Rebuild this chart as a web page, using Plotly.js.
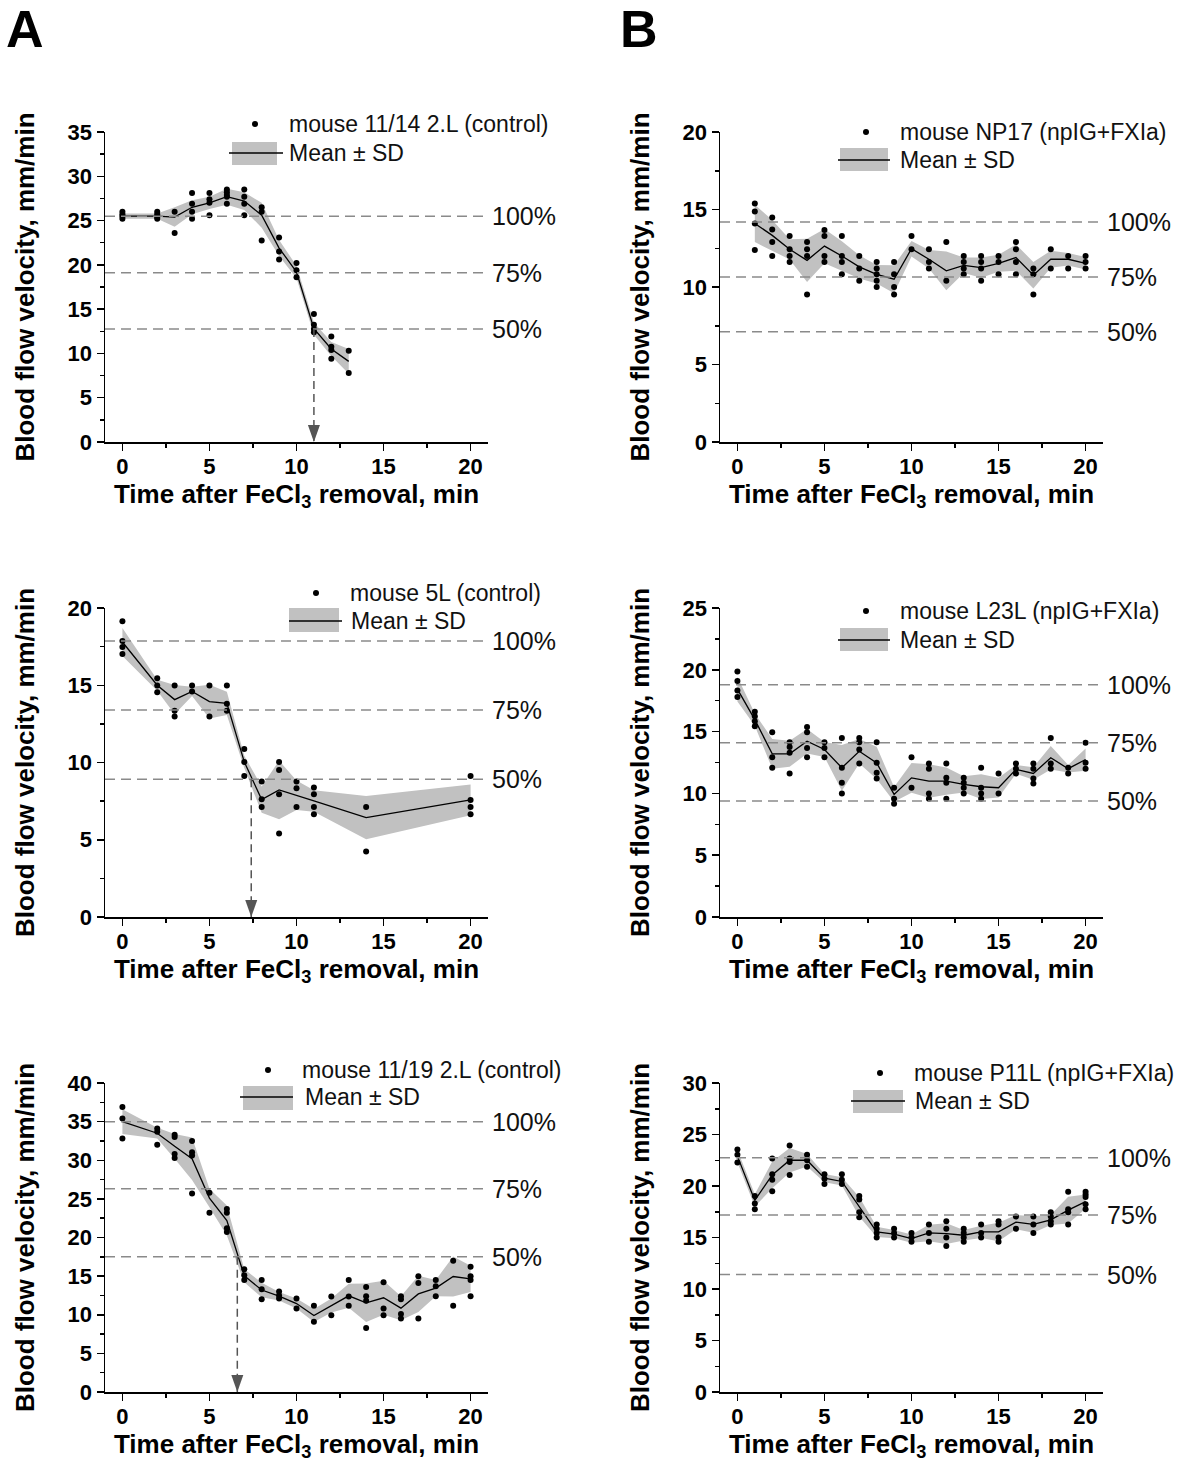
<!DOCTYPE html>
<html>
<head>
<meta charset="utf-8">
<script src="https://cdn.plot.ly/plotly-3.0.1.min.js"></script>
<style>html,body{margin:0;padding:0;background:#fff;}#chart{width:1181px;height:1466px;}</style>
</head>
<body>
<div id="chart"></div>
<script>
// ---------------- DATA ----------------
const levelLabels = ["100%", "75%", "50%"];

// Panel A, top: mouse 11/14 2.L (control)
const a1Name = "mouse 11/14 2.L (control)";
const a1T    = [0, 2, 3, 4, 5, 6, 7, 8, 9, 10, 11, 12, 13];
const a1Mean = [25.5, 25.5, 25.4, 26.5, 27.0, 27.7, 27.2, 25.6, 21.9, 19.2, 12.8, 10.5, 9.1];
const a1Sd   = [0.3, 0.3, 1.1, 0.8, 0.7, 0.9, 1.0, 1.4, 0.9, 0.7, 0.7, 0.8, 1.4];
const a1Pts  = [[26.0,25.7,25.5,25.2],[26.0,25.7,25.4,25.2],[26.0,23.6],[28.1,26.9,26.0,25.2],
                [28.1,27.4,27.0,25.6],[28.5,28.2,27.9,27.7,26.9],[28.5,27.7,26.9,25.6],[26.5,26.0,22.75],
                [23.1,21.5,20.6],[20.2,19.4,18.6],[14.45,13.25,12.75,12.4],[11.9,10.75,10.4,9.4],[10.3,7.8]];
const a1Levels = [25.5, 19.1, 12.75];
const a1Arrow  = 11;

// Panel A, middle: mouse 5L (control)
const a2Name = "mouse 5L (control)";
const a2T    = [0, 2, 3, 4, 5, 6, 7, 8, 9, 10, 11, 14, 20];
const a2Mean = [17.8, 15.0, 14.07, 14.6, 13.94, 13.83, 10.04, 7.6, 8.22, 7.88, 7.51, 6.43, 7.58];
const a2Sd   = [0.9, 0.35, 0.95, 0.3, 1.1, 0.75, 0.4, 0.85, 1.9, 0.95, 0.7, 1.4, 1.0];
const a2Pts  = [[19.15,17.86,17.47,17.03],[15.45,14.98,14.55],[14.98,13.35,12.97],[14.98,14.6],
                [14.98,12.97],[14.98,13.8,13.35],[10.87,10.04,9.13],[8.77,7.62,7.12],
                [10.04,9.52,7.94,5.41],[8.77,8.33,7.12],[8.38,7.94,7.12,6.65],[7.12,4.24],[9.13,7.58,7.12,6.65]];
const a2Levels = [17.86, 13.4, 8.92];
const a2Arrow  = 7.4;

// Panel A, bottom: mouse 11/19 2.L (control)
const a3Name = "mouse 11/19 2.L (control)";
const a3T    = [0, 2, 3, 4, 5, 6, 7, 8, 9, 10, 11, 12, 13, 14, 15, 16, 17, 18, 19, 20];
const a3Mean = [35.0, 33.5, 31.8, 30.2, 25.1, 22.2, 15.05, 13.2, 12.4, 11.45, 9.9, 11.2, 12.45, 11.55, 12.2, 10.85, 12.7, 13.45, 14.95, 14.65];
const a3Sd   = [1.6, 0.7, 1.6, 2.75, 1.2, 1.95, 0.85, 0.95, 0.55, 0.65, 0.85, 0.9, 1.55, 2.5, 2.2, 1.55, 2.35, 1.05, 2.6, 1.7];
const a3Pts  = [[36.9,35.4,32.8],[34.1,33.7,32.0],[33.3,33.0,30.8,30.3],[32.5,31.05,30.6,25.7],
                [25.8,23.2],[23.7,23.2,21.2,20.7],[15.9,15.1,14.5],[14.5,13.3,12.0],[13.0,12.5,12.1],
                [12.1,10.8],[11.16,9.08],[12.37,9.95],[14.5,12.37,11.16],[13.6,12.4,11.8,8.3],
                [14.2,10.8,9.95],[12.4,12.0,10.1,9.5],[15.0,14.1,9.5],[14.5,13.7,12.4],[17.0,11.16],[16.2,15.0,14.5,12.4]];
const a3Levels = [35.0, 26.3, 17.5];
const a3Arrow  = 6.6;

// Panel B, top: mouse NP17 (npIG+FXIa)
const b1Name = "mouse NP17 (npIG+FXIa)";
const b1T    = [1, 2, 3, 4, 5, 6, 7, 8, 9, 10, 11, 12, 13, 14, 15, 16, 17, 18, 19, 20];
const b1Mean = [14.1, 13.33, 12.43, 11.72, 12.64, 12.0, 11.3, 10.82, 10.5, 12.47, 11.79, 11.04, 11.4, 11.25, 11.53, 11.9, 10.76, 11.79, 11.79, 11.53];
const b1Sd   = [1.2, 1.0, 0.65, 1.4, 1.1, 0.95, 0.75, 0.6, 0.9, 0.5, 0.6, 1.25, 0.5, 0.65, 0.55, 0.85, 0.85, 0.55, 0.4, 0.4];
const b1Pts  = [[15.39,14.87,14.1,12.39],[14.49,13.71,12.9,12.0],[13.29,12.43,12.0,11.61],[12.9,12.43,12.0,9.51],
                [13.67,13.29,12.0,11.61],[13.29,12.0,11.61,10.82],[12.0,11.2,10.41],[11.61,11.2,10.82,10.41,10.0],
                [11.61,10.82,10.0,9.51],[13.29,12.43],[12.43,11.61,11.2],[12.9,10.41],[12.0,11.61,11.2,10.82],
                [12.0,11.61,11.2,10.41],[12.0,11.61,10.82],[12.9,12.43,11.61,10.82],[11.2,10.82,9.51],
                [12.43,11.2],[12.0,11.2],[12.0,11.61,11.2]];
const b1Levels = [14.19, 10.65, 7.11];

// Panel B, middle: mouse L23L (npIG+FXIa)
const b2Name = "mouse L23L (npIG+FXIa)";
const b2T    = [0, 1, 2, 3, 4, 5, 6, 7, 8, 9, 10, 11, 12, 13, 14, 15, 16, 17, 18, 19, 20];
const b2Mean = [18.44, 15.97, 13.2, 13.2, 14.22, 13.55, 12.07, 13.41, 12.47, 9.92, 11.26, 11.0, 11.0, 10.73, 10.54, 10.46, 11.94, 11.61, 12.88, 12.0, 12.74];
const b2Sd   = [1.0, 0.5, 1.2, 1.05, 1.0, 0.6, 1.85, 1.0, 1.3, 0.6, 1.2, 1.35, 1.1, 0.65, 1.0, 0.8, 0.35, 0.5, 0.95, 0.3, 0.9];
const b2Pts  = [[19.87,19.1,18.33,17.8],[16.6,16.24,15.83,15.43],[14.95,12.93,12.07],[14.14,13.76,13.28,11.61],
                [15.38,14.95,13.68,12.93],[14.14,13.68,12.93],[14.49,12.07,10.86,10.0],[14.49,14.14,13.55,12.42],
                [14.14,12.47,11.67,11.2],[10.46,9.57,9.17],[12.93,10.46],[12.42,12.0,10.0,9.57],
                [12.42,11.26,10.86,9.57],[11.26,10.86,10.46,10.0],[12.07,10.46,10.0,9.57],[11.61,10.0],
                [12.42,12.0,11.61],[12.42,12.0,11.2,10.8],[14.49,12.42,12.0],[12.07,11.61],[14.09,12.47,12.0]];
const b2Levels = [18.79, 14.09, 9.38];

// Panel B, bottom: mouse P11L (npIG+FXIa)
const b3Name = "mouse P11L (npIG+FXIa)";
const b3T    = [0, 1, 2, 3, 4, 5, 6, 7, 8, 9, 10, 11, 12, 13, 14, 15, 16, 17, 18, 19, 20];
const b3Mean = [22.9, 18.6, 21.08, 22.5, 22.5, 20.76, 20.44, 17.97, 15.54, 15.32, 14.9, 15.44, 15.38, 15.22, 15.54, 15.54, 16.49, 16.27, 16.71, 17.66, 18.48];
const b3Sd   = [0.6, 0.6, 1.3, 1.2, 0.6, 0.4, 0.4, 0.95, 0.5, 0.4, 0.4, 0.8, 1.0, 0.5, 0.6, 0.9, 0.7, 0.8, 0.5, 1.3, 0.7];
const b3Pts  = [[23.54,23.04,22.28],[19.02,18.29,17.75],[22.66,21.14,20.6,19.5],[23.92,22.66,22.34,21.08],
                [23.04,22.5,21.87],[21.14,20.7,20.19],[21.14,20.6,20.19],[19.02,18.7,17.44,16.96],
                [16.27,15.85,15.44,15.0],[15.85,15.44,15.0],[15.44,15.0,14.59],[16.27,15.44,14.59],
                [16.58,15.85,15.0,14.18],[15.85,15.44,15.0,14.59],[16.27,15.44,15.0],[16.58,16.27,15.0,14.59],
                [17.03,15.85],[17.03,16.27,15.44],[17.44,17.03,16.58,16.27],[19.43,17.75,17.44,16.27],
                [19.43,19.18,18.92,18.23,17.75]];
const b3Levels = [22.75, 17.18, 11.4];

const yMax = [35, 20, 40, 20, 25, 30];
const meanLabel = "Mean \u00b1 SD";
const xTitle = "Time after FeCl<sub>3</sub> removal, min";
const yTitle = "Blood flow velocity, mm/min";

// ---------------- LAYOUT GEOMETRY ----------------
const W = 1181, H = 1466;
const FONT = "Liberation Sans, Arial, Helvetica, sans-serif";
const px = v => v / W;
const py = v => 1 - v / H;
const colPx = [[105, 488], [720, 1103]];
const rowPx = [[132, 442], [608, 917], [1083, 1392]];

const panels = [
  {col:0,row:0,name:a1Name,T:a1T,mean:a1Mean,sd:a1Sd,pts:a1Pts,levels:a1Levels,arrow:a1Arrow,
   leg:{dot:[255,124],rect:[232,142,277,165],line:[229,283,153]}},
  {col:0,row:1,name:a2Name,T:a2T,mean:a2Mean,sd:a2Sd,pts:a2Pts,levels:a2Levels,arrow:a2Arrow,
   leg:{dot:[316,593],rect:[289,608,339,632],line:[289,342,621]}},
  {col:0,row:2,name:a3Name,T:a3T,mean:a3Mean,sd:a3Sd,pts:a3Pts,levels:a3Levels,arrow:a3Arrow,
   leg:{dot:[268,1070],rect:[243,1086,293,1110],line:[240,293,1097]}},
  {col:1,row:0,name:b1Name,T:b1T,mean:b1Mean,sd:b1Sd,pts:b1Pts,levels:b1Levels,arrow:null,
   leg:{dot:[866,132],rect:[840,148,888,171],line:[838,890,160]}},
  {col:1,row:1,name:b2Name,T:b2T,mean:b2Mean,sd:b2Sd,pts:b2Pts,levels:b2Levels,arrow:null,
   leg:{dot:[866,611],rect:[840,628,888,651],line:[838,890,640]}},
  {col:1,row:2,name:b3Name,T:b3T,mean:b3Mean,sd:b3Sd,pts:b3Pts,levels:b3Levels,arrow:null,
   leg:{dot:[880,1073],rect:[853,1090,903,1113],line:[851,905,1101]}}
];

const traces = [];
const shapes = [];
const annotations = [];
const layout = {
  width: W, height: H,
  margin: {l:0, r:0, t:0, b:0},
  paper_bgcolor: "#fff", plot_bgcolor: "rgba(0,0,0,0)",
  showlegend: false,
  font: {family: FONT, color: "#000"}
};

const axisBase = {
  showline: true, linecolor: "#000", linewidth: 1.5,
  ticks: "outside", ticklen: 7, tickwidth: 1.5, tickcolor: "#000",
  showgrid: false, zeroline: false, tick0: 0, dtick: 5,
  tickfont: {family: FONT, size: 22, color: "#000", weight: "bold"},
  minor: {ticks: "outside", ticklen: 4, tickwidth: 1.5, tickcolor: "#000", dtick: 2.5, showgrid: false},
  automargin: false,
  fixedrange: true
};

panels.forEach((p, i) => {
  const s = i === 0 ? "" : String(i + 1);
  const xa = "x" + s, ya = "y" + s;
  const cp = colPx[p.col], rp = rowPx[p.row];
  layout["xaxis" + s] = Object.assign({}, axisBase, {
    domain: [px(cp[0]), px(cp[1])], anchor: ya, range: [-1, 21], ticklabelstandoff: -3,
    title: {text: xTitle, standoff: 3, font: {family: FONT, size: 26, color: "#000", weight: "bold"}}
  });
  layout["yaxis" + s] = Object.assign({}, axisBase, {
    domain: [py(rp[1]), py(rp[0])], anchor: xa, range: [0, yMax[i]],
    title: {text: yTitle, standoff: 25, font: {family: FONT, size: 26, color: "#000", weight: "bold"}}
  });

  const lower = p.mean.map((m, k) => m - p.sd[k]);
  const upper = p.mean.map((m, k) => m + p.sd[k]);
  traces.push({x: p.T, y: lower, xaxis: xa, yaxis: ya, mode: "lines",
               line: {width: 0, color: "rgba(0,0,0,0)"}, hoverinfo: "skip", showlegend: false});
  traces.push({x: p.T, y: upper, xaxis: xa, yaxis: ya, mode: "lines", fill: "tonexty",
               fillcolor: "#c1c1c1", line: {width: 0, color: "rgba(0,0,0,0)"}, hoverinfo: "skip", showlegend: false});
  traces.push({x: p.T, y: p.mean, xaxis: xa, yaxis: ya, mode: "lines", name: meanLabel,
               line: {color: "#000", width: 1.3}, showlegend: false});
  const ptX = [], ptY = [];
  p.pts.forEach((grp, k) => grp.forEach(v => { ptX.push(p.T[k]); ptY.push(v); }));
  traces.push({x: ptX, y: ptY, xaxis: xa, yaxis: ya, mode: "markers", name: p.name,
               marker: {color: "#000", size: 6}, cliponaxis: false, showlegend: false});

  // reference levels (100%, 75%, 50%)
  p.levels.forEach((lv, k) => {
    shapes.push({type: "line", xref: xa + " domain", yref: ya, x0: 0, x1: 1, y0: lv, y1: lv,
                 line: {color: "#8a8a8a", width: 1.5, dash: "10px,6px"}, layer: "above"});
    annotations.push({xref: xa + " domain", yref: ya, x: 1, y: lv, xanchor: "left", yanchor: "middle",
                      xshift: 2, text: levelLabels[k], showarrow: false,
                      font: {family: FONT, size: 25, color: "#111"}});
  });

  // time-to-50% arrow: dashed stem + triangular head (pixel-sized, anchored at the data point)
  if (p.arrow !== null) {
    shapes.push({type: "line", xref: xa, yref: ya, x0: p.arrow, x1: p.arrow, y0: p.levels[2], y1: 0,
                 line: {color: "#555", width: 1.5, dash: "8px,5px"}, layer: "above"});
    shapes.push({type: "path", xref: xa, yref: ya, xsizemode: "pixel", ysizemode: "pixel",
                 xanchor: p.arrow, yanchor: 0, path: "M-6,17 L6,17 L0,0 Z",
                 fillcolor: "#555", line: {width: 0}, layer: "above"});
  }

  // legend (drawn manually to match the reference icons)
  const L = p.leg;
  shapes.push({type: "circle", xref: "paper", yref: "paper",
               x0: px(L.dot[0] - 3), x1: px(L.dot[0] + 3), y0: py(L.dot[1] + 3), y1: py(L.dot[1] - 3),
               fillcolor: "#000", line: {width: 0}});
  shapes.push({type: "rect", xref: "paper", yref: "paper",
               x0: px(L.rect[0]), x1: px(L.rect[2]), y0: py(L.rect[3]), y1: py(L.rect[1]),
               fillcolor: "#c1c1c1", line: {width: 0}});
  shapes.push({type: "line", xref: "paper", yref: "paper",
               x0: px(L.line[0]), x1: px(L.line[1]), y0: py(L.line[2]), y1: py(L.line[2]),
               line: {color: "#000", width: 1.3}});
  annotations.push({xref: "paper", yref: "paper", x: px(L.dot[0] + 32), y: py(L.dot[1]),
                    xanchor: "left", yanchor: "middle", text: p.name, showarrow: false,
                    font: {family: FONT, size: 23, color: "#111"}});
  annotations.push({xref: "paper", yref: "paper", x: px(L.rect[2] + 10), y: py(L.line[2]),
                    xanchor: "left", yanchor: "middle", text: meanLabel, showarrow: false,
                    font: {family: FONT, size: 23, color: "#111"}});
});

annotations.push({xref: "paper", yref: "paper", x: px(4), y: py(29), xanchor: "left", yanchor: "middle",
                  text: "A", showarrow: false, font: {family: FONT, size: 52, color: "#000", weight: "bold"}});
annotations.push({xref: "paper", yref: "paper", x: px(618), y: py(29), xanchor: "left", yanchor: "middle",
                  text: "B", showarrow: false, font: {family: FONT, size: 52, color: "#000", weight: "bold"}});

layout.shapes = shapes;
layout.annotations = annotations;

Plotly.newPlot("chart", traces, layout, {staticPlot: true, displayModeBar: false});
</script>
</body>
</html>
